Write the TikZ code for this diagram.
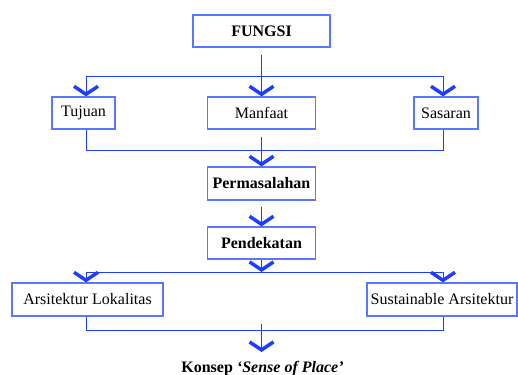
\documentclass[tikz,border=0pt]{standalone}
\usepackage{fontspec}
\setmainfont{Liberation Serif}
\usetikzlibrary{arrows.meta}
\definecolor{boxblue}{HTML}{5A78FF}
\definecolor{lineblue}{HTML}{1F3DFF}

\begin{document}
\begin{tikzpicture}[
  x=1pt, y=-1pt,
  every node/.style={font=\fontsize{16}{19}\selectfont},
  bold/.style={font=\fontsize{16}{19}\selectfont\bfseries},
  box/.style={draw=boxblue, line width=1.2pt, minimum height=32pt, inner sep=0pt},
  con/.style={draw=lineblue, line width=0.9pt},
  arr/.style={con, -{Straight Barb[length=8pt,width=24pt,line width=3.5pt]}}
]
  \useasboundingbox (0,0) rectangle (518,374);

  \node[box, bold, minimum width=137pt] (fungsi) at (261.5,31) {FUNGSI};
  \node[box, minimum width=63pt] (tujuan) at (83.5,113) {Tujuan};
  \node[box, minimum width=108pt] (manfaat) at (261.5,113) {Manfaat};
  \node[box, minimum width=64pt] (sasaran) at (446,113) {Sasaran};
  \node[box, bold, minimum width=108pt, minimum height=33pt] (masalah) at (261.5,183.5) {Permasalahan};
  \node[box, bold, minimum width=108pt] (dekat) at (261.5,243) {Pendekatan};
  \node[box, minimum width=151pt, minimum height=33pt] (lokal) at (87.5,299.5) {Arsitektur Lokalitas};
  \node[box, minimum width=150pt, minimum height=33pt] (sustain) at (442,299.5) {Sustainable Arsitektur};
  \node[bold, anchor=base] (konsep) at (262.5,372) {Konsep \textit{`Sense of Place'}};

  % columns and junctions
  \coordinate (colL) at (86,0);
  \coordinate (colR) at (443,0);
  \coordinate (j1) at (261.5,76);
  \coordinate (j2) at (261.5,150);
  \coordinate (j3) at (261.5,272);
  \coordinate (j4) at (261.5,330);
  \coordinate (stem) at (261.5,324);
  \coordinate (tip) at (261.5,352);

  \draw[con] (colL |- j1) -- (colR |- j1);
  \draw[arr, shorten <=7pt] (fungsi) -- (manfaat);
  \draw[arr] (colL |- j1) -- (colL |- tujuan.north);
  \draw[arr] (colR |- j1) -- (colR |- sasaran.north);

  \draw[con] (colL |- tujuan.south) |- (colR |- j2) -- (colR |- sasaran.south);
  \draw[arr, shorten <=7pt] (manfaat) -- (masalah);
  \draw[arr, shorten <=6pt] (masalah) -- (dekat);

  \draw[arr] (dekat) -- (j3);
  \draw[con] (colL |- j3) -- (colR |- j3);
  \draw[arr] (colL |- j3) -- (colL |- lokal.north);
  \draw[arr] (colR |- j3) -- (colR |- sustain.north);

  \draw[con] (colL |- lokal.south) |- (colR |- j4) -- (colR |- sustain.south);
  \draw[arr] (stem) -- (tip);
\end{tikzpicture}
\end{document}
